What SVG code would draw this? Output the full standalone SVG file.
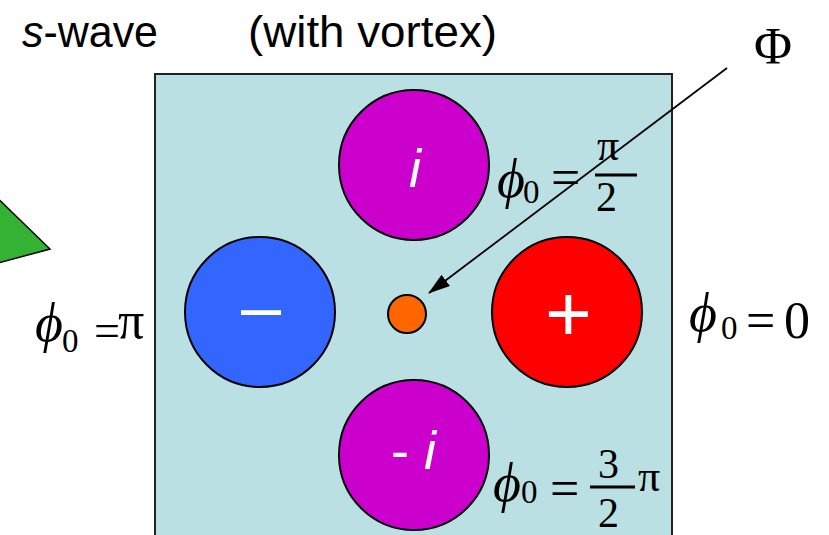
<svg xmlns="http://www.w3.org/2000/svg" width="829" height="535" viewBox="0 0 829 535">
<defs>
<style>
.sans{font-family:"Liberation Sans",Arial,sans-serif;}
.serif{font-family:"Liberation Serif","DejaVu Serif","Times New Roman",serif;fill:#000;}
.lbl{font-family:"Liberation Sans",Arial,sans-serif;fill:#fff;}
.node{stroke:#000;stroke-width:2;}
.phi{font-style:italic;font-size:54px;}
.sub{font-size:33px;}
</style>
<marker id="ah" viewBox="0 0 22 14" refX="21" refY="7" markerWidth="22" markerHeight="14" markerUnits="userSpaceOnUse" orient="auto">
<path d="M0,0 L22,7 L0,14 Z" fill="#000"/>
</marker>
</defs>
<rect width="829" height="535" fill="#fff"/>
<g id="green-triangle">
<polygon points="-20,181 50,249 -20,268" fill="#33B233" stroke="#000" stroke-width="1.5"/>
</g>
<g id="panel">
<rect x="155" y="74" width="517" height="480" fill="#BBE0E3" stroke="#222" stroke-width="2"/>
</g>
<g id="title">
<text class="sans" x="22" y="47" font-size="45" textLength="136" lengthAdjust="spacingAndGlyphs"><tspan font-style="italic">s</tspan>-wave</text>
<text class="sans" x="248" y="47" font-size="45" textLength="249" lengthAdjust="spacingAndGlyphs">(with vortex)</text>
</g>
<g id="node-i">
<circle class="node" cx="414" cy="165" r="75" fill="#CC00CC"/>
<text class="lbl" x="409" y="187" font-size="54" font-style="italic">i</text>
</g>
<g id="node-minus">
<circle class="node" cx="260" cy="312" r="75" fill="#3366FF"/>
<text class="lbl" x="241" y="331" font-size="72">–</text>
</g>
<g id="node-plus">
<circle class="node" cx="567" cy="312" r="75" fill="#FF0000"/>
<text class="lbl" x="545" y="341" font-size="80">+</text>
</g>
<g id="node-minus-i">
<circle class="node" cx="414" cy="455" r="75" fill="#CC00CC"/>
<text class="lbl" x="391" y="469" font-size="54"><tspan>-</tspan> <tspan font-style="italic">i</tspan></text>
</g>
<g id="vortex">
<circle class="node" cx="407" cy="314" r="19" fill="#FF6600"/>
</g>
<g id="flux-label">
<text class="serif" x="754" y="64" font-size="52">Φ</text>
</g>
<g id="connectors">
<line x1="727" y1="68" x2="429" y2="293" stroke="#000" stroke-width="1.8" marker-end="url(#ah)"/>
</g>
<g id="phase-top">
<text class="serif phi" x="497" y="197">ϕ</text>
<text class="serif sub" x="523" y="203">0</text>
<text class="serif" x="551" y="195" font-size="52">=</text>
<text class="serif" x="597" y="160" font-size="44">π</text>
<line x1="595" y1="175" x2="637" y2="175" stroke="#000" stroke-width="3"/>
<text class="serif" x="596" y="211" font-size="42">2</text>
</g>
<g id="phase-left">
<text class="serif phi" x="35" y="341">ϕ</text>
<text class="serif sub" x="62" y="352">0</text>
<text class="serif" x="94" y="346" font-size="46">=</text>
<text class="serif" x="118" y="338" font-size="52">π</text>
</g>
<g id="phase-right">
<text class="serif phi" x="689" y="331">ϕ</text>
<text class="serif sub" x="721" y="339">0</text>
<text class="serif" x="746" y="338" font-size="52">=</text>
<text class="serif" x="784" y="338" font-size="52">0</text>
</g>
<g id="phase-bottom">
<text class="serif phi" x="493" y="501">ϕ</text>
<text class="serif sub" x="521" y="503">0</text>
<text class="serif" x="550" y="506" font-size="52">=</text>
<text class="serif" x="598" y="478" font-size="42">3</text>
<line x1="590" y1="487" x2="635" y2="487" stroke="#000" stroke-width="3"/>
<text class="serif" x="598" y="527" font-size="42">2</text>
<text class="serif" x="638" y="491" font-size="44">π</text>
</g>
</svg>
